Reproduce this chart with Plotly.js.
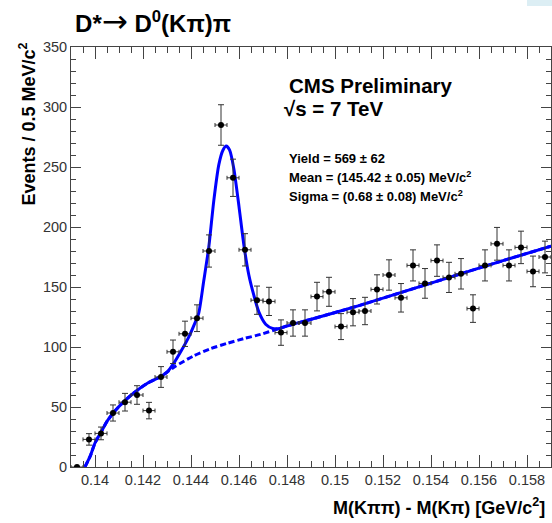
<!DOCTYPE html>
<html>
<head>
<meta charset="utf-8">
<script src="https://cdn.plot.ly/plotly-3.0.1.min.js"></script>
<style>html,body{margin:0;padding:0;background:#fff}#chart{width:552px;height:523px}</style>
</head>
<body>
<div id="chart"></div>
<script>
// Bin centres (GeV/c^2) and counts per 0.5 MeV/c^2 bin
const binCenters = [0.13925,0.13975,0.14025,0.14075,0.14125,0.14175,0.14225,0.14275,0.14325,0.14375,
  0.14425,0.14475,0.14525,0.14575,0.14625,0.14675,0.14725,0.14775,0.14825,0.14875,
  0.14925,0.14975,0.15025,0.15075,0.15125,0.15175,0.15225,0.15275,0.15325,0.15375,
  0.15425,0.15475,0.15525,0.15575,0.15625,0.15675,0.15725,0.15775,0.15825,0.15875];
const counts = [0,23,28,45,54,60,47,75,96,111,
  124,180,285,241,181,139,138,112,120,120,
  142,146,117,129,130,148,160,141,168,153,
  172,158,161,132,168,186,168,183,163,175];

// Total fit curve
const fitX = [0.13958,0.1398,0.1400,0.14025,0.1405,0.1408,0.1412,0.1416,0.1422,0.1427,0.1430,
  0.1433,0.1436,0.1439,0.1441,0.14432,0.14453,0.14474,0.14495,0.14516,0.14533,0.14547,0.14561,
  0.14579,0.1460,0.14621,0.14641,0.14662,0.14683,0.14711,0.1474,0.1477,0.1480,0.1489,
  0.151,0.153,0.155,0.157,0.159];
const fitY = [0,9,20,29,38,46,54.5,61.5,70,75,79,
  87,97,108,117,128,155,183,222,252,264,267.5,264,
  248,217,184,160,143,129,119,115.5,115.5,117.5,122.5,
  134.5,147,159.5,172,184];

// Background component (dashed)
const bkgX = [0.13958,0.1398,0.1400,0.14025,0.1405,0.1408,0.1412,0.1416,0.1422,0.1427,0.1430,
  0.14335,0.1441,0.1448,0.1455,0.1462,0.1469,0.1476,0.1480,0.1489,0.151,0.153,0.155,0.157,0.159];
const bkgY = [0,9,20,29,38,46,54.5,61.5,70,75,79,
  84,92.5,98.5,103,107,110.5,115,117.5,122.5,134.5,147,159.5,172,184];

const xTickVals = [0.14,0.142,0.144,0.146,0.148,0.15,0.152,0.154,0.156,0.158];
const xTickText = ['0.14','0.142','0.144','0.146','0.148','0.15','0.152','0.154','0.156','0.158'];
const yTickVals = [0,50,100,150,200,250,300,350];

const FONT = 'Liberation Sans, Arial, Helvetica, sans-serif';

const traces = [
  {x: bkgX, y: bkgY, mode: 'lines', line: {color: '#0000ff', width: 3, dash: '6px,3px', shape: 'spline', smoothing: 0.6}, hoverinfo: 'skip'},
  {x: fitX, y: fitY, mode: 'lines', line: {color: '#0000ff', width: 3, shape: 'spline', smoothing: 0.6}, hoverinfo: 'skip'},
  {x: binCenters, y: counts, mode: 'markers', marker: {color: '#000', size: 6},
   error_y: {type: 'sqrt', color: '#333', thickness: 1, width: 3},
   error_x: {type: 'constant', value: 0.00025, color: '#333', thickness: 1, width: 2}}
];

const axisCommon = {
  showgrid: false, zeroline: false, showline: true, linecolor: '#444', linewidth: 1,
  mirror: 'allticks', ticks: 'inside', tickcolor: '#444',
  tickfont: {family: FONT, size: 14.5, color: '#333'}
};

const layout = {
  width: 552, height: 523,
  margin: {l: 71, r: 1, t: 47, b: 56},
  paper_bgcolor: '#fff', plot_bgcolor: '#fff',
  showlegend: false,
  title: {text: '<b>D*</b><span style="font-family:DejaVu Sans;font-weight:normal;font-size:31px">→</span><b> D<sup>0</sup>(Kπ)π</b>',
          xref: 'container', x: 0.136, xanchor: 'left',
          yref: 'container', y: 0.954, yanchor: 'middle',
          font: {family: FONT, size: 24, color: '#000'}},
  xaxis: Object.assign({}, axisCommon, {
    range: [0.139, 0.159], tickmode: 'array', tickvals: xTickVals, ticktext: xTickText,
    ticklen: 12, minor: {dtick: 0.0005, tick0: 0.14, ticklen: 6, ticks: 'inside', tickcolor: '#444'}
  }),
  yaxis: Object.assign({}, axisCommon, {
    range: [0, 350], tickmode: 'array', tickvals: yTickVals,
    ticklen: 10, minor: {dtick: 10, tick0: 0, ticklen: 5, ticks: 'inside', tickcolor: '#444'}
  }),
  shapes: [
    {type: 'rect', xref: 'paper', yref: 'paper', x0: 0.95, x1: 1.003, y0: 1.0976, y1: 1.12,
     line: {width: 0}, fillcolor: '#dceef4', layer: 'above'}
  ],
  annotations: [
    {text: '<b>CMS Preliminary</b>', xref: 'paper', yref: 'paper', x: 0.45, y: 0.9095,
     xanchor: 'left', yanchor: 'middle', showarrow: false, font: {family: FONT, size: 20.5, color: '#000'}},
    {text: '<b>√s = 7 TeV</b>', xref: 'paper', yref: 'paper', x: 0.44, y: 0.8524,
     xanchor: 'left', yanchor: 'middle', showarrow: false, font: {family: FONT, size: 20.5, color: '#000'}},
    {text: '<b>Yield = 569 ± 62</b>', xref: 'paper', yref: 'paper', x: 0.45, y: 0.7357,
     xanchor: 'left', yanchor: 'middle', showarrow: false, font: {family: FONT, size: 13, color: '#000'}},
    {text: '<b>Mean = (145.42 ± 0.05) MeV/c<sup>2</sup></b>', xref: 'paper', yref: 'paper', x: 0.45, y: 0.6905,
     xanchor: 'left', yanchor: 'middle', showarrow: false, font: {family: FONT, size: 13, color: '#000'}},
    {text: '<b>Sigma = (0.68 ± 0.08) MeV/c<sup>2</sup></b>', xref: 'paper', yref: 'paper', x: 0.45, y: 0.6452,
     xanchor: 'left', yanchor: 'middle', showarrow: false, font: {family: FONT, size: 13, color: '#000'}},
    {text: '<b>M(Kππ) - M(Kπ) [GeV/c<sup>2</sup>]</b>', xref: 'paper', yref: 'paper', x: 0.9917, y: -0.0952,
     xanchor: 'right', yanchor: 'middle', showarrow: false, font: {family: FONT, size: 18, color: '#000'}},
    {text: '<b>Events / 0.5 MeV/c<sup>2</sup></b>', xref: 'paper', yref: 'paper', x: -0.0896, y: 1.0167,
     xanchor: 'center', yanchor: 'top', textangle: -90, showarrow: false, font: {family: FONT, size: 18, color: '#000'}}
  ]
};

Plotly.newPlot('chart', traces, layout, {displayModeBar: false, staticPlot: true});
</script>
</body>
</html>
